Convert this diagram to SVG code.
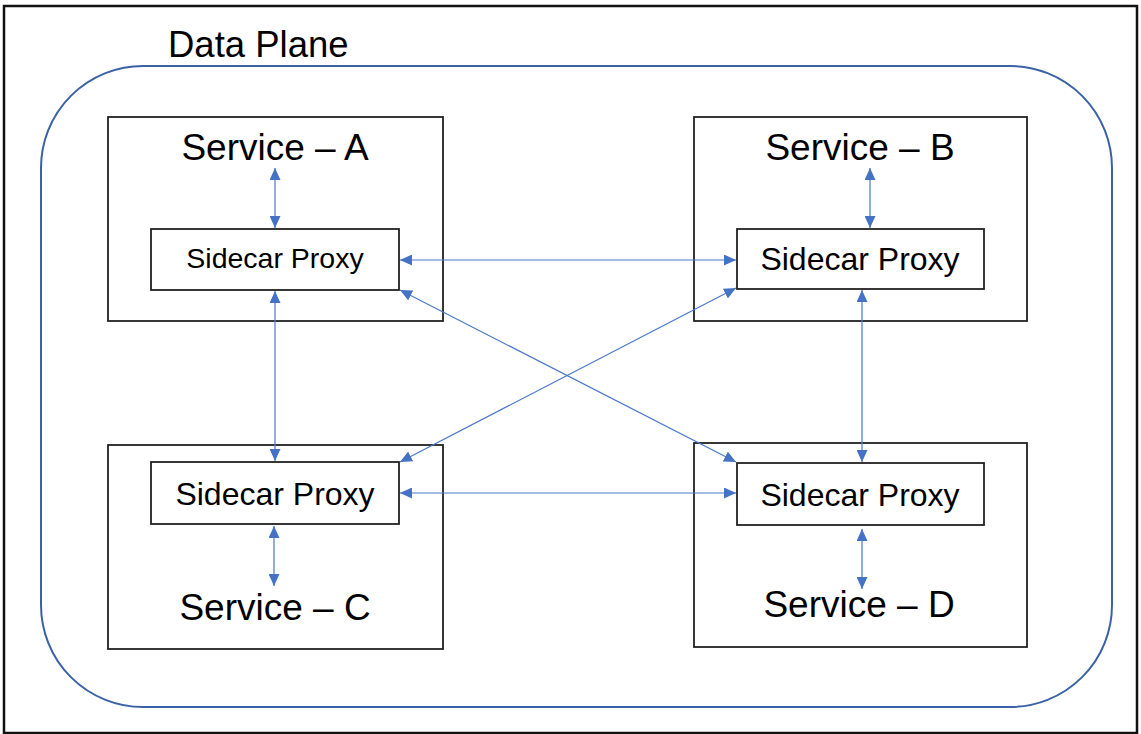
<svg xmlns="http://www.w3.org/2000/svg" width="1141" height="734" viewBox="0 0 1141 734">
<style>
.txt{font-family:"Liberation Sans",Arial,sans-serif;fill:#000;text-anchor:middle}
.svc{fill:#fff;stroke:#222;stroke-width:1.8}
.prx{fill:#fff;stroke:#222;stroke-width:1.8}
.conn{stroke:#4a78cc;stroke-width:1.2;fill:none;marker-start:url(#ah);marker-end:url(#ah)}
</style>
<defs>
<marker id="ah" viewBox="0 0 12 11" refX="12" refY="5.5" markerWidth="12" markerHeight="11" markerUnits="userSpaceOnUse" orient="auto-start-reverse">
<path d="M0,0 L12,5.5 L0,11 z" fill="#4472c4"/>
</marker>
</defs>
<rect x="0" y="0" width="1141" height="734" fill="#fff"/>
<g id="frame">
<rect x="4" y="6" width="1133" height="727" fill="none" stroke="#111" stroke-width="2.5"/>
</g>
<g id="data-plane">
<rect x="41" y="66" width="1071" height="641" rx="102" ry="102" fill="none" stroke="#3b62a6" stroke-width="2"/>
<text class="txt" x="168" y="57" font-size="36.5" style="text-anchor:start">Data Plane</text>
</g>
<g id="service-a">
<rect class="svc" x="108" y="117" width="335" height="204"/>
<text class="txt" x="275" y="160" font-size="37">Service – A</text>
</g>
<g id="proxy-a">
<rect class="prx" x="151" y="229" width="248" height="61"/>
<text class="txt" x="275" y="268" font-size="28.5">Sidecar Proxy</text>
</g>
<g id="service-b">
<rect class="svc" x="694" y="117" width="333" height="204"/>
<text class="txt" x="860" y="160" font-size="37">Service – B</text>
</g>
<g id="proxy-b">
<rect class="prx" x="737" y="229" width="247" height="60"/>
<text class="txt" x="860" y="270" font-size="32">Sidecar Proxy</text>
</g>
<g id="service-c">
<rect class="svc" x="108" y="445" width="335" height="204"/>
<text class="txt" x="275" y="620" font-size="37">Service – C</text>
</g>
<g id="proxy-c">
<rect class="prx" x="151" y="462" width="248" height="62"/>
<text class="txt" x="275" y="505" font-size="32">Sidecar Proxy</text>
</g>
<g id="service-d">
<rect class="svc" x="694" y="443" width="333" height="204"/>
<text class="txt" x="859" y="617" font-size="37">Service – D</text>
</g>
<g id="proxy-d">
<rect class="prx" x="737" y="463" width="247" height="62"/>
<text class="txt" x="860" y="506" font-size="32">Sidecar Proxy</text>
</g>
<g id="connectors">
<line class="conn" x1="275" y1="168" x2="275" y2="228"/>
<line class="conn" x1="870" y1="168" x2="870" y2="228"/>
<line class="conn" x1="400" y1="260" x2="736" y2="260"/>
<line class="conn" x1="400" y1="493" x2="736" y2="493"/>
<line class="conn" x1="275" y1="291" x2="275" y2="461"/>
<line class="conn" x1="862" y1="290" x2="862" y2="462"/>
<line class="conn" x1="400" y1="290" x2="736" y2="462"/>
<line class="conn" x1="736" y1="288" x2="400" y2="462"/>
<line class="conn" x1="274" y1="526" x2="274" y2="586"/>
<line class="conn" x1="862" y1="529" x2="862" y2="589"/>
</g>
</svg>
